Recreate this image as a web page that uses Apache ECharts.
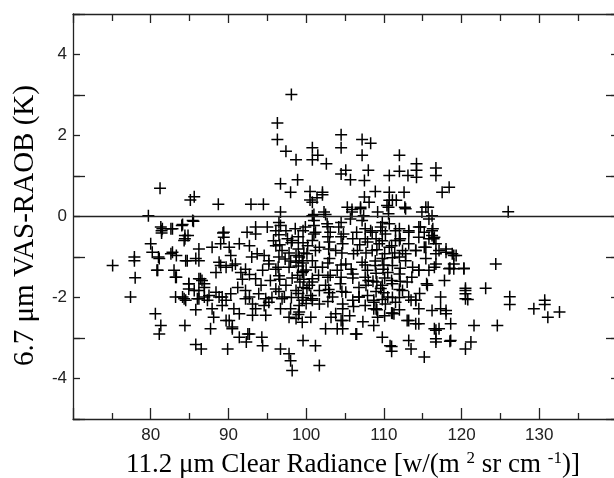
<!DOCTYPE html>
<html>
<head>
<meta charset="utf-8">
<script src="https://cdn.jsdelivr.net/npm/echarts@6/dist/echarts.min.js"></script>
<style>
  html, body { margin: 0; padding: 0; background: #fff; }
  #chart { width: 614px; height: 478px; }
</style>
</head>
<body>
<div id="chart"></div>
<script>
// radiance (x) vs. VAS-RAOB difference (y)
var aboveZero = [
  [81.2,0.70],[85.1,0.41],[85.6,0.49],[88.7,0.30],[92.9,0.30],[94.5,0.30],[98.1,3.01],[96.3,2.31],
  [96.3,1.90],[97.4,1.61],[98.7,1.40],[100.8,1.70],[101.5,1.51],[102.6,1.30],[100.8,1.40],[96.7,0.81],
  [98.9,0.91],[98.0,0.60],[100.5,0.62],[102.1,0.60],[100.5,0.41],[101.4,0.46],[102.1,0.54],[104.5,2.02],
  [104.5,1.70],[105.1,1.14],[104.5,1.05],[105.7,0.91],[105.3,0.23],[105.9,0.17],[96.7,0.11],[101.0,0.05],
  [102.5,0.05],[79.7,0.02],[107.2,1.90],[108.3,1.81],[107.2,1.51],[112.0,1.51],[108.0,1.14],[107.5,0.89],
  [110.7,1.01],[112.0,1.12],[113.1,1.01],[114.2,1.30],[114.2,1.14],[114.2,0.97],[116.7,1.20],[116.7,1.01],
  [118.4,0.72],[117.5,0.60],[107.5,0.48],[108.9,0.62],[110.7,0.60],[112.6,0.60],[111.6,0.40],[110.7,0.40],
  [107.0,0.23],[109.2,0.11],[110.6,0.23],[112.7,0.23],[114.9,0.11],[115.7,0.23],[126.0,0.12],[108.1,0.35],
  [110.4,0.27],[111.1,0.40],[112.8,0.19],[115.4,0.23],[100.8,0.35],[116.2,0.02],[100.8,0.02],[102.3,0.11],
  [105.9,0.11],[107.4,0.02],[110.6,0.07],[107.0,0.19]
];

var westBelow = [
  [81.4,-0.35],[82.6,-0.30],[84.1,-0.20],[85.5,-0.12],[84.4,-0.47],[81.4,-0.41],[89.3,-0.41],
  [75.1,-1.21],[77.9,-1.00],[77.9,-1.09],[78.0,-1.51],[77.4,-1.99],[80.6,-2.40],[81.3,-2.69],[81.1,-2.90],
  [80.0,-0.67],[80.2,-0.88],[81.0,-1.00],[80.8,-1.33],[82.6,-0.92],[83.3,-0.96],[83.0,-1.33],[83.3,-1.50],
  [84.7,-1.09],[85.8,-1.04],[86.2,-0.80],[84.4,-0.55],[84.0,-0.22],[81.3,-0.26],
  [84.9,-1.66],[85.6,-1.83],[86.2,-1.54],[86.6,-1.58],[86.0,-2.03],[86.9,-1.99],[84.1,-1.99],[83.2,-1.99],
  [84.5,-2.07],[85.8,-2.30],[87.9,-2.28],[89.2,-2.20],[89.7,-2.57],[88.1,-2.49],[91.4,-2.40],[92.7,-2.90],
  [90.5,-2.77],
  [81.5,-0.30],[82.8,-0.30],[85.4,-0.10],[84.8,-0.47],[84.3,-0.59],[89.4,-0.39],[89.4,-0.51],[92.4,-0.39],
  [93.5,-0.26],[93.5,-0.43],
  [81.1,-1.04],[82.8,-0.88],[84.5,-1.09],[86.2,-1.09],[87.9,-0.76],[89.0,-0.67],[88.8,-1.13],[90.1,-0.76],
  [91.4,-0.67],[92.7,-0.72],[90.3,-0.96],[90.9,-1.17],[93.7,-0.92],[94.6,-0.96],
  [80.9,-1.33],[83.2,-1.50],[84.9,-1.66],[86.4,-1.54],[86.9,-1.66],[88.4,-1.38],[89.0,-1.21],[89.7,-1.25],
  [90.5,-1.21],[91.6,-1.38],[92.2,-1.30],[92.7,-1.43],[93.5,-1.54],[94.4,-1.33],
  [84.9,-1.79],[86.2,-1.83],[86.9,-1.75],[87.5,-1.95],[88.4,-1.87],[89.2,-1.99],[89.7,-2.07],[90.3,-1.91],
  [91.2,-1.75],[92.2,-1.83],[92.7,-1.99],[93.9,-1.91],[94.8,-2.03],
  [84.3,-2.03],[86.2,-2.03],[87.3,-2.07],[88.8,-1.99],[90.7,-2.28],[92.2,-2.03],[93.1,-2.16],[93.5,-2.28],
  [94.6,-2.20],[90.1,-2.57],[93.1,-2.44],[94.8,-2.44],
  [94.2,-1.70],[93.0,-1.00],[91.8,-1.55]
];

var middleBelow = [
  [95.0,-0.26],[96.1,-0.35],[96.7,-0.22],[97.4,-0.35],[98.6,-0.30],[99.9,-0.26],[101.0,-0.10],[101.2,-0.39],
  [95.2,-1.09],[96.1,-0.72],[96.9,-0.84],[98.2,-0.59],[98.7,-0.96],[99.5,-1.09],[100.2,-0.72],[101.2,-0.84],
  [95.2,-1.17],[96.1,-1.30],[96.5,-1.46],[97.8,-1.25],[98.7,-1.13],[99.5,-1.38],[100.8,-1.54],[101.2,-1.25],
  [96.1,-1.79],[97.4,-1.70],[97.2,-1.99],[98.7,-1.83],[99.5,-2.07],[100.4,-1.70],[100.8,-2.03],
  [95.2,-2.12],[96.7,-2.28],[96.9,-2.03],[97.8,-2.49],[99.1,-2.36],[100.8,-2.07],[98.7,-2.52],[99.5,-2.61],
  [101.0,-0.22],[101.0,-0.43],[102.7,-0.18],[103.1,-0.39],[104.2,-0.26],[104.8,-0.43],
  [100.8,-0.59],[101.7,-0.76],[103.0,-0.63],[103.8,-0.84],[104.7,-0.67],
  [100.8,-1.09],[102.1,-1.25],[103.0,-1.04],[104.0,-1.33],
  [100.8,-1.62],[101.7,-1.83],[102.5,-1.70],[103.4,-1.99],[104.4,-1.66],[101.7,-2.16],[104.7,-2.16],
  [99.0,-0.50],[99.0,-0.80],[99.1,-1.00],[99.0,-1.22],[98.9,-1.45],[99.2,-1.62],[99.0,-1.90],[99.1,-2.20],
  [99.0,-2.42],[98.1,-0.65],[98.0,-1.10],[98.2,-1.52],[98.1,-2.00],[98.0,-2.28],[100.1,-0.92],[100.0,-1.32],
  [100.1,-1.78],[100.0,-2.15],[103.1,-1.45],[103.0,-1.88],[95.4,-1.58],[95.6,-2.00],[97.3,-1.05],[97.6,-0.55],
  [96.5,-0.15],[96.5,-0.45],[96.6,-0.70],[96.5,-1.00],[96.4,-1.25],[96.6,-1.55],[96.5,-1.85],
  [99.6,-0.35],[99.6,-0.65],[99.7,-0.90],[99.6,-1.15],[99.6,-1.35],[99.7,-1.55],[99.6,-1.75],[99.6,-2.00],
  [102.8,-0.25],[102.8,-0.50],[102.9,-0.80],[102.8,-1.15],[102.8,-1.50],[102.9,-1.80],[102.8,-2.10],
  [104.5,-0.15],[104.5,-0.50],[104.6,-0.90],[104.5,-1.20],[104.5,-1.50],[104.6,-1.85],
  [97.8,-0.90],[100.6,-1.95],[101.6,-1.45],[95.8,-0.60],[103.8,-2.40]
];

var eastBelow = [
  [105.7,-0.06],[106.5,-0.39],[107.2,-0.10],[108.3,-0.35],[109.6,-0.26],[110.2,-0.43],[110.7,-0.18],
  [111.5,-0.35],[113.2,-0.35],[114.5,-0.26],[115.2,-0.39],[116.3,-0.30],[116.5,-0.51],[115.8,-0.06],
  [106.0,-0.55],[106.6,-0.84],[107.9,-0.63],[108.5,-0.84],[109.4,-0.67],[110.7,-0.76],[111.5,-0.59],
  [112.4,-0.84],[113.2,-0.67],[114.1,-0.84],[115.2,-0.76],[115.8,-0.55],[116.7,-0.67],[117.1,-0.84],
  [118.0,-0.80],[118.8,-0.92],[119.3,-0.96],
  [105.1,-1.17],[106.0,-1.42],[107.2,-1.13],[107.9,-1.33],[108.9,-1.21],[109.8,-1.04],[110.5,-1.38],
  [111.1,-1.21],[112.0,-1.42],[112.8,-1.09],[113.7,-1.25],[114.5,-1.33],[115.4,-1.04],[116.5,-1.25],
  [118.4,-1.29],[119.0,-1.29],[120.3,-1.29],
  [105.1,-1.87],[106.0,-2.07],[106.8,-1.75],[107.9,-1.95],[108.7,-2.07],[109.6,-1.78],[110.5,-1.99],
  [111.1,-1.66],[111.5,-2.12],[112.4,-1.83],[113.2,-1.99],[114.1,-2.07],[115.6,-1.70],[117.3,-1.99],
  [120.5,-1.83],[120.5,-2.03],[106.8,-1.99],[110.2,-2.16],
  [124.4,-1.17],[118.5,-1.28],[120.3,-1.28],[119.0,-1.17],[115.5,-1.66],[123.1,-1.77],[120.5,-1.77],
  [120.5,-1.91],[120.8,-2.05],[126.2,-1.98],[126.2,-2.17],[129.3,-2.28],[130.7,-2.07],[130.7,-2.17],
  [131.1,-2.49],[132.6,-2.36],
  [116.7,-1.17],[115.8,-1.33],[114.5,-1.33],[112.8,-0.92],[114.1,-0.84],[115.4,-0.76],[116.7,-0.92],
  [118.0,-0.88],[119.0,-0.96],[116.2,-0.35],[116.2,-0.47],[116.4,-0.55],[114.7,-0.26],[114.5,-0.51],
  [113.2,-0.39],[112.0,-0.59],[109.8,-0.35],[108.5,-0.39],
  [109.0,-0.55],[109.1,-0.82],[108.9,-1.10],[109.0,-1.40],[109.1,-1.62],[109.0,-1.85],[109.1,-2.30],
  [110.1,-0.92],[110.0,-1.20],[110.1,-1.52],[110.0,-1.88],[110.1,-2.45],[111.0,-0.72],[111.1,-1.02],
  [111.0,-1.58],[111.1,-2.00],[111.0,-2.38],[112.1,-1.28],[112.0,-1.80],[106.1,-0.92],[106.0,-1.52],
  [106.1,-2.22],[108.0,-1.58],[113.0,-1.62],[117.8,-1.58],
  [107.6,-0.30],[107.6,-0.55],[107.7,-0.90],[107.6,-1.20],[107.6,-1.50],[107.7,-1.70],[107.6,-2.20],
  [109.8,-0.15],[109.8,-0.60],[109.9,-1.30],[109.8,-1.70],[109.8,-2.05],
  [112.0,-0.30],[112.1,-0.55],[112.0,-1.00],[112.1,-1.60],[112.0,-2.00],[112.0,-2.30],
  [105.8,-1.30],[106.9,-0.70],[108.6,-1.60],[111.4,-0.90],[113.6,-1.50],[114.6,-1.90],[105.6,-2.45],
  [107.3,-2.60]
];

var lowTail = [
  [84.4,-2.69],[87.7,-2.77],[85.8,-3.16],[86.5,-3.27],[89.9,-3.27],[90.5,-2.73],[91.4,-2.98],[92.3,-3.10],
  [92.5,-2.90],[94.3,-2.98],[94.4,-3.19],[96.7,-3.27],[97.8,-3.39],[98.0,-3.56],[98.2,-3.80],[99.6,-3.06],
  [101.2,-3.19],[101.7,-3.68],
  [100.6,-2.49],[103.2,-2.49],[104.5,-2.57],[102.5,-2.77],[104.0,-2.77],[106.4,-2.90],[108.7,-2.28],
  [109.2,-2.49],[108.7,-2.69],[111.3,-2.40],[109.8,-2.98],[110.8,-3.19],[113.2,-2.57],[114.1,-2.65],
  [113.2,-3.06],[113.5,-3.27],[115.2,-3.47],[116.5,-2.77],[116.7,-3.02],[118.0,-2.40],[118.6,-2.65],
  [118.6,-3.06],[120.5,-3.27],[121.2,-3.10],[121.6,-2.69],[124.6,-2.69],[111.0,-3.21],[111.0,-3.33],
  [106.5,-2.90],[113.0,-2.57],[114.5,-2.65],[117.3,-2.28],[118.0,-2.32],[116.2,-2.32],[114.5,-2.28],
  [113.5,-2.07],[114.1,-2.07],[116.7,-2.81],[111.1,-2.39],[109.0,-2.28],[108.7,-2.12],[106.8,-1.99],
  [104.7,-2.28],[104.7,-2.57],[104.7,-2.77],[117.1,-2.77],[116.7,-3.10],[118.5,-3.08]
];

var allPoints = aboveZero.concat(westBelow, middleBelow, eastBelow, lowTail);

var xMin = 70, xMax = 140;
var yMin = -5, yMax = 5;

var chart = echarts.init(document.getElementById('chart'));

var axisCol = '#222';
var sans = "'Liberation Sans', Arial, sans-serif";
var serif = "'Liberation Serif', 'Times New Roman', serif";

function yAxisDef(pos, step, len, line, labels) {
  return {
    type: 'value', position: pos, min: yMin, max: yMax, interval: step,
    axisLine: { show: line, onZero: false, lineStyle: { color: axisCol, width: 1.3 } },
    axisTick: { show: true, inside: true, length: len, lineStyle: { color: axisCol, width: 1.3 } },
    axisLabel: labels ? {
      show: true, margin: 6, color: '#222', fontFamily: sans, fontSize: 17,
      formatter: function (v) { return v % 2 === 0 && Math.abs(v) < 5 ? String(v) : ''; }
    } : { show: false },
    splitLine: { show: false }
  };
}

var option = {
  animation: false,
  backgroundColor: '#fff',
  grid: { left: 73, top: 14, right: -3, bottom: 59, outerBoundsMode: 'none', containLabel: false },
  xAxis: [
    {
      type: 'value', position: 'bottom', min: xMin, max: xMax, interval: 10,
      name: '11.2 μm Clear Radiance [w/(m {sup|2} sr cm {sup|-1})]',
      nameLocation: 'middle', nameGap: 31,
      nameTextStyle: {
        fontFamily: serif, fontSize: 27, color: '#000', lineHeight: 29,
        padding: [0, 0, 0, 16],
        rich: { sup: { fontFamily: serif, fontSize: 17, color: '#000', verticalAlign: 'top', lineHeight: 17 } }
      },
      axisLine: { onZero: false, lineStyle: { color: axisCol, width: 1.3 } },
      axisTick: { inside: true, length: 11, lineStyle: { color: axisCol, width: 1.3 } },
      minorTick: { show: true, splitNumber: 2, length: 6, lineStyle: { color: axisCol, width: 1.3 } },
      axisLabel: { margin: 8, color: '#222', fontFamily: sans, fontSize: 17, showMinLabel: false, showMaxLabel: false },
      splitLine: { show: false }
    },
    {
      type: 'value', position: 'top', min: xMin, max: xMax, interval: 10,
      axisLine: { onZero: false, lineStyle: { color: axisCol, width: 1.3 } },
      axisTick: { inside: true, length: 9, lineStyle: { color: axisCol, width: 1.3 } },
      minorTick: { show: true, splitNumber: 2, length: 7, lineStyle: { color: axisCol, width: 1.3 } },
      axisLabel: { show: false },
      splitLine: { show: false }
    }
  ],
  yAxis: [
    Object.assign(yAxisDef('left', 1, 7, true, true), {
      name: '6.7 μm VAS-RAOB (K)', nameLocation: 'middle', nameGap: 33,
      nameTextStyle: { fontFamily: serif, fontSize: 29, color: '#000', padding: [0, 18, 0, 0] }
    }),
    yAxisDef('left', 2, 12, false, false),
    yAxisDef('right', 1, 6, true, false),
    yAxisDef('right', 2, 11, false, false)
  ],
  series: [{
    type: 'scatter',
    xAxisIndex: 0,
    yAxisIndex: 0,
    data: allPoints,
    symbol: 'path://M5.25,0H6.75V5.25H12V6.75H6.75V12H5.25V6.75H0V5.25H5.25Z',
    symbolSize: 12,
    itemStyle: { color: '#000', opacity: 1 },
    markLine: {
      silent: true,
      symbol: 'none',
      label: { show: false },
      lineStyle: { color: '#222', width: 1.3, type: 'solid' },
      data: [{ yAxis: 0 }]
    }
  }]
};

chart.setOption(option);
</script>
</body>
</html>
